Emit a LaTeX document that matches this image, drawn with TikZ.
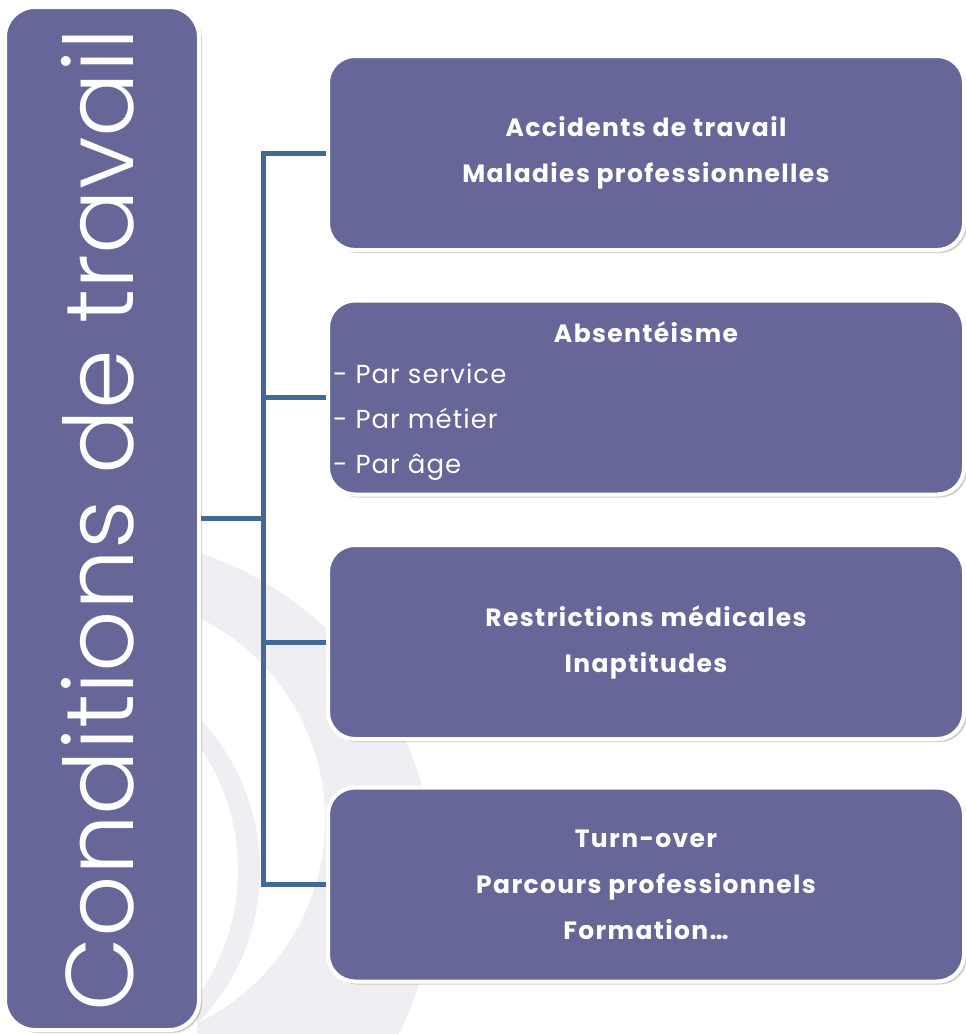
\documentclass[tikz,border=0pt]{standalone}
\usepackage{fontspec}
\setmainfont{Poppins}
\newfontfamily\lightfont{Poppins Light}
\newfontfamily\boxfont[LetterSpace=5.5]{Poppins}
\newfontfamily\listfont[LetterSpace=4]{Poppins}
\usetikzlibrary{shadows}
\definecolor{boxfill}{HTML}{666699}
\definecolor{linkcol}{HTML}{406898}
\definecolor{wm}{HTML}{F1EEF3}
\begin{document}
\begin{tikzpicture}[x=1pt,y=-1pt,
  shad/.style={drop shadow={opacity=0.3, fill=black!60, shadow xshift=3pt, shadow yshift=-3pt}},
  rbox/.style={draw=white, line width=4pt, fill=boxfill, rounded corners=27pt,
    minimum width=636pt, minimum height=194pt, shad, text=white, align=center,
    font=\boxfont\bfseries\fontsize{25}{46}\selectfont},
  lbox/.style={draw=white, line width=4pt, fill=boxfill, rounded corners=30pt,
    minimum width=194pt, minimum height=1023pt, shad},
  linkline/.style={draw=linkcol, line width=5pt, line join=miter},
  wtext/.style={text=white, inner sep=0pt}
]
\useasboundingbox (0,0) rectangle (966,1034);
% watermark
\begin{scope}
  \clip (197,0) rectangle (966,1034);
  \fill[wm] (90,880) circle[radius=345];
  \fill[white] (100,820) circle[radius=225];
  \fill[wm, even odd rule] (40,870) circle[radius=220] (20,870) circle[radius=218];
\end{scope}
\coordinate (jt) at (263,153);
% left box
\node[lbox] (lbox) at (102,518.5) {};
\node[wtext, rotate=90, anchor=base, font=\lightfont\fontsize{96}{96}\selectfont] (title) at (133,520) {Conditions de travail};
% right boxes
\node[rbox] (b1) at (646,153) {Accidents de travail\\Maladies professionnelles};
\node[rbox] (b2) at (646,397.5) {};
\node[rbox] (b3) at (646,642) {Restrictions médicales\\Inaptitudes};
\node[rbox] (b4) at (646,884.5) {Turn-over\\Parcours professionnels\\Formation…};
\node[wtext, font=\boxfont\bfseries\fontsize{25}{46}\selectfont] (abs) at (646,332) {Absentéisme};
\node[wtext, anchor=west, align=left, font=\listfont\fontsize{26}{45}\selectfont] (list) at (333,422) {- Par service\\- Par métier\\- Par âge};
% connectors
\draw[linkline] (b1.west) -- (jt) |- (b4.west);
\draw[linkline] (lbox.east) -- (lbox.east -| jt);
\draw[linkline] (b2.west) -- (b2.west -| jt);
\draw[linkline] (b3.west) -- (b3.west -| jt);
\end{tikzpicture}
\end{document}
